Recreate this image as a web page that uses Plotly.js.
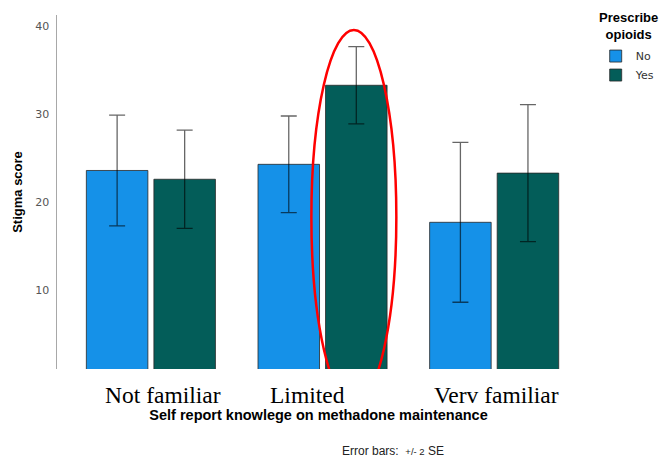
<!DOCTYPE html>
<html><head><meta charset="utf-8">
<script src="https://cdn.plot.ly/plotly-3.0.1.min.js"></script>
<style>html,body{margin:0;padding:0;background:#fff}#chart{width:666px;height:459px}</style>
</head><body><div id="chart"></div>
<script>
const categories = ["Not familiar", "Limited", "Verv familiar"];
const seriesNames = ["No", "Yes"];
const meanNo = [23.6, 24.3, 17.7];
const meanYes = [22.6, 33.3, 23.3];
const se2No = [6.3, 5.5, 9.1];
const se2Yes = [5.6, 4.4, 7.8];
const yTicks = [10, 20, 30, 40];
const legendTitle = "Prescribe<br>opioids";

// category label placement (layout only)
const labelShift = [12, -15, 2];

const errStyle = {type: 'data', visible: true, color: 'rgba(0,0,0,0.6)', thickness: 1.3, width: 8};
const traces = [
  {type: 'bar', name: seriesNames[0], x: categories, y: meanNo,
   marker: {color: '#1591e8', line: {color: 'rgba(40,40,40,0.8)', width: 1}},
   error_y: Object.assign({array: se2No}, errStyle)},
  {type: 'bar', name: seriesNames[1], x: categories, y: meanYes,
   marker: {color: '#035d59', line: {color: 'rgba(40,40,40,0.8)', width: 1}},
   error_y: Object.assign({array: se2Yes}, errStyle)}
];

const catLabels = categories.map((c, i) => ({
  xref: 'x', yref: 'paper', x: c, y: -0.073, xanchor: 'center', yanchor: 'middle',
  xshift: labelShift[i], showarrow: false, text: c,
  font: {family: 'Liberation Serif, Times New Roman, serif', size: 23.5, color: '#000'}
}));

const layout = {
  width: 666, height: 459,
  margin: {l: 57, r: 86, t: 15, b: 90, autoexpand: false},
  paper_bgcolor: '#fff', plot_bgcolor: '#fff',
  font: {family: 'Liberation Sans, Arial, sans-serif', color: '#000'},
  barmode: 'group', bargap: 0.213, bargroupgap: 0.089,
  showlegend: true,
  xaxis: {type: 'category', range: [-0.547, 2.5], showline: false, showgrid: false, zeroline: false,
    ticks: '', showticklabels: false, automargin: false,
    title: {text: 'Self report knowlege on methadone maintenance', font: {size: 14.5, color: '#000', weight: 'bold'}, standoff: 40}},
  yaxis: {range: [1, 41.3], tickvals: yTicks, showline: true, linecolor: '#a8a8a8', linewidth: 1.5,
    showgrid: false, zeroline: false, ticks: '', ticklabelstandoff: 4, automargin: false,
    tickfont: {family: 'DejaVu Sans, sans-serif', size: 11, color: '#555'},
    title: {text: 'Stigma score', font: {size: 13, color: '#000', weight: 'bold'}, standoff: 9}},
  legend: {x: 1.03, xanchor: 'left', y: 0.925, yanchor: 'top', bgcolor: 'rgba(0,0,0,0)',
    font: {family: 'DejaVu Sans, sans-serif', size: 11, color: '#333'},
    itemwidth: 30, tracegroupgap: 0},
  shapes: [{type: 'circle', xref: 'x', yref: 'y', x0: 0.935, x1: 1.43, y0: -3.0, y1: 39.6,
    line: {color: '#ff0000', width: 2.5}}],
  annotations: catLabels.concat([
    {xref: 'paper', yref: 'paper', x: 0.541, y: -0.231, xanchor: 'left', yanchor: 'middle', showarrow: false,
     text: 'Error bars:  <span style="font-size:9.5px">+/- 2</span> SE', font: {family: 'Liberation Sans, Arial, sans-serif', size: 12, color: '#222'}},
    {xref: 'paper', yref: 'paper', x: 1.092, y: 0.969, xanchor: 'center', yanchor: 'middle', align: 'center', showarrow: false,
     text: legendTitle, font: {family: 'Liberation Sans, Arial, sans-serif', size: 13, color: '#000', weight: 'bold'}}])
};
Plotly.newPlot('chart', traces, layout, {displayModeBar: false, staticPlot: true});
</script></body></html>
